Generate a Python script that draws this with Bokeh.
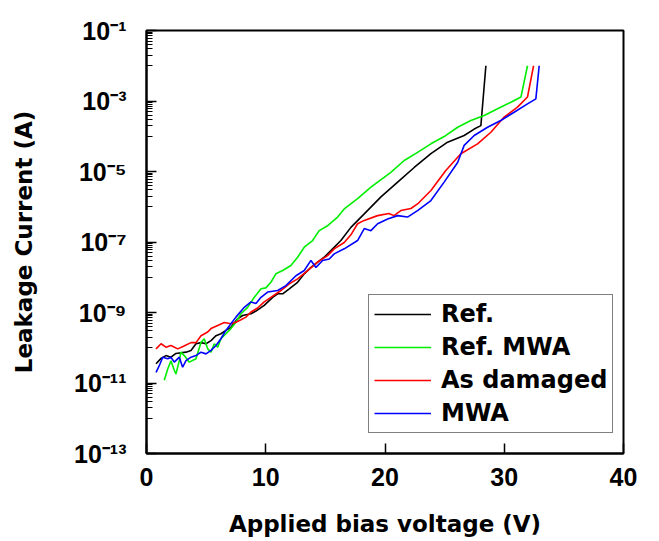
from bokeh.plotting import figure
from bokeh.models import FixedTicker, CustomJSTickFormatter, Legend, LegendItem
from bokeh.embed import file_html
from bokeh.resources import INLINE

# ---- data ----
v_ref = [0.80, 1.22, 1.63, 2.05, 2.47, 3.31, 3.73, 4.15, 4.57, 4.99, 5.41, 5.83, 6.24, 6.66,
         7.08, 7.64, 8.06, 8.76, 9.18, 9.87, 10.58, 11.00, 11.42, 11.97, 12.67, 13.23, 13.79,
         14.35, 14.90, 15.46, 16.30, 17.14, 18.26, 19.66, 21.06, 22.45, 23.85, 25.25, 26.64,
         27.48, 28.04, 28.46]
i_ref = [3.5e-11, 5.0e-11, 6.0e-11, 5.4e-11, 6.9e-11, 7.5e-11, 8.4e-11, 1.3e-10, 1.4e-10,
         1.3e-10, 1.6e-10, 2.2e-10, 2.5e-10, 3.1e-10, 3.8e-10, 6.6e-10, 8.2e-10, 9.2e-10,
         1.1e-9, 1.6e-9, 2.7e-9, 3.4e-9, 3.4e-9, 4.7e-9, 7.2e-9, 1.25e-8, 1.9e-8, 2.7e-8,
         3.7e-8, 5.7e-8, 1.1e-7, 2.6e-7, 6.3e-7, 1.9e-6, 5.0e-6, 1.3e-5, 3.2e-5, 6.8e-5,
         1.05e-4, 1.6e-4, 2.0e-4, 1.0e-2]

v_refmwa = [1.49, 1.78, 2.05, 2.33, 2.47, 2.75, 2.89, 3.17, 3.59, 4.15, 4.57, 4.84, 5.13, 5.41,
            5.68, 5.97, 6.24, 6.66, 7.08, 7.50, 7.92, 8.48, 9.04, 9.60, 10.01, 10.43, 10.85,
            11.42, 12.11, 12.67, 13.23, 13.93, 14.48, 15.19, 16.03, 16.58, 17.70, 18.82, 20.49,
            21.61, 22.73, 23.85, 24.96, 26.09, 27.20, 28.32, 29.44, 30.56, 31.40, 31.95]
i_refmwa = [1.2e-11, 2.5e-11, 4.3e-11, 2.3e-11, 1.8e-11, 4.3e-11, 7.5e-11, 6.0e-11, 3.9e-11,
            4.9e-11, 1.4e-10, 1.8e-10, 9.3e-11, 7.5e-11, 1.3e-10, 1.04e-10, 1.8e-10, 2.5e-10,
            3.5e-10, 5.3e-10, 9.2e-10, 1.4e-9, 2.7e-9, 4.7e-9, 5.0e-9, 7.2e-9, 1.25e-8, 1.55e-8,
            2.15e-8, 3.7e-8, 7.1e-8, 1.1e-7, 2.1e-7, 2.9e-7, 5.1e-7, 8.7e-7, 1.7e-6, 3.6e-6,
            9.5e-6, 2.05e-5, 3.5e-5, 6.1e-5, 9.8e-5, 1.8e-4, 2.8e-4, 3.9e-4, 6.0e-4, 9.2e-4,
            1.3e-3, 1.0e-2]

v_dmg = [0.80, 1.22, 1.63, 2.05, 2.62, 3.06, 3.73, 4.15, 4.57, 5.13, 5.41, 5.97, 6.52, 7.08,
         7.50, 7.92, 8.34, 8.76, 9.32, 9.87, 10.43, 11.27, 11.97, 12.67, 13.51, 14.35, 15.19,
         15.74, 16.58, 17.14, 17.70, 18.26, 19.38, 20.33, 20.75, 21.33, 22.17, 22.73, 23.85,
         25.10, 26.36, 27.76, 28.88, 29.99, 31.11, 31.95, 32.46]
i_dmg = [9.3e-11, 1.3e-10, 1.04e-10, 1.16e-10, 9.3e-11, 1.08e-10, 1.4e-10, 1.4e-10, 2.2e-10,
         2.8e-10, 3.5e-10, 4.3e-10, 5.2e-10, 4.8e-10, 5.3e-10, 6.2e-10, 7.4e-10, 1.03e-9,
         1.34e-9, 2.0e-9, 2.7e-9, 4.2e-9, 6.5e-9, 9.0e-9, 1.55e-8, 2.7e-8, 4.1e-8, 6.4e-8,
         9.7e-8, 1.6e-7, 3.3e-7, 4.1e-7, 5.6e-7, 6.4e-7, 5.6e-7, 7.8e-7, 8.9e-7, 1.2e-6,
         2.9e-6, 1.07e-5, 3.2e-5, 6.1e-5, 1.3e-4, 3.5e-4, 6.7e-4, 1.3e-3, 1.0e-2]

v_mwa = [0.80, 1.07, 1.36, 1.78, 2.05, 2.33, 2.75, 3.03, 3.31, 3.73, 4.15, 4.57, 4.99, 5.41,
         5.83, 6.24, 6.66, 7.08, 7.50, 8.20, 8.76, 9.18, 9.60, 10.16, 11.00, 11.69, 12.53,
         13.23, 13.79, 14.21, 14.77, 15.32, 15.74, 16.58, 17.70, 18.26, 18.82, 19.38, 20.22,
         21.06, 21.89, 22.73, 23.85, 24.96, 26.09, 26.64, 27.48, 28.60, 29.71, 30.83, 31.95,
         32.65, 32.93]
i_mwa = [2.0e-11, 3.1e-11, 5.4e-11, 4.9e-11, 5.4e-11, 3.9e-11, 5.4e-11, 2.8e-11, 4.3e-11,
         5.4e-11, 6.0e-11, 7.5e-11, 6.7e-11, 8.4e-11, 1.16e-10, 1.8e-10, 3.1e-10, 4.8e-10,
         7.4e-10, 1.4e-9, 2.0e-9, 1.8e-9, 2.7e-9, 3.8e-9, 4.2e-9, 5.8e-9, 1.1e-8, 1.55e-8,
         3.0e-8, 1.9e-8, 3.0e-8, 3.3e-8, 4.6e-8, 6.4e-8, 1.1e-7, 2.4e-7, 2.1e-7, 3.3e-7,
         4.5e-7, 5.6e-7, 5.1e-7, 7.8e-7, 1.5e-6, 5.0e-6, 1.8e-5, 5.5e-5, 1.05e-4, 1.8e-4,
         2.8e-4, 4.8e-4, 8.3e-4, 1.15e-3, 1.0e-2]

series_labels = ["Ref.", "Ref. MWA", "As damaged", "MWA"]
series_colors = ["#000000", "#00ee00", "#ff0000", "#0000ff"]

x_ticks = [0, 10, 20, 30, 40]
y_exponents = [-13, -11, -9, -7, -5, -3, -1]

TICK_FONT = "Liberation Sans"
TEXT_FONT = "DejaVu Sans"

p = figure(width=651, height=541, y_axis_type="log", x_range=(0, 40),
           y_range=(1e-13, 1e-1), output_backend="svg", toolbar_location=None)
p.min_border_left = 146
p.min_border_right = 28
p.min_border_top = 30
p.min_border_bottom = 88
p.xgrid.visible = False
p.ygrid.visible = False
p.outline_line_color = "black"
p.outline_line_width = 2
p.background_fill_color = "white"
p.border_fill_color = "white"

renderers = []
for xs, ys, col in [(v_ref, i_ref, series_colors[0]), (v_refmwa, i_refmwa, series_colors[1]),
                    (v_dmg, i_dmg, series_colors[2]), (v_mwa, i_mwa, series_colors[3])]:
    renderers.append(p.line(xs, ys, line_color=col, line_width=1.6))

# axes
y_major = [10.0 ** e for e in y_exponents]
y_minor = [m * 10.0 ** (e - 1) for e in y_exponents[1:] for m in range(1, 10)]
p.yaxis.ticker = FixedTicker(ticks=y_major, minor_ticks=y_minor)
p.yaxis.formatter = CustomJSTickFormatter(code="""
const sup = {"-": "\u207b", "0": "\u2070", "1": "\u00b9", "2": "\u00b2", "3": "\u00b3",
             "4": "\u2074", "5": "\u2075", "6": "\u2076", "7": "\u2077", "8": "\u2078", "9": "\u2079"};
const e = Math.round(Math.log10(tick));
return "10" + String(e).split("").map(c => sup[c]).join("");
""")
p.xaxis.ticker = FixedTicker(ticks=x_ticks, minor_ticks=[])

for ax in (p.xaxis, p.yaxis):
    ax.axis_line_width = 2
    ax.axis_line_color = "black"
    ax.major_tick_in = 10
    ax.major_tick_out = 0
    ax.major_tick_line_width = 1.5
    ax.minor_tick_in = 6
    ax.minor_tick_out = 0
    ax.minor_tick_line_width = 1.2
    ax.major_label_text_font = TICK_FONT
    ax.major_label_text_font_style = "bold"
    ax.major_label_text_font_size = "25px"
    ax.major_label_text_color = "black"
    ax.axis_label_text_font = TEXT_FONT
    ax.axis_label_text_font_style = "bold"
    ax.axis_label_text_font_size = "23px"
    ax.axis_label_text_color = "black"

p.xaxis.axis_label = "Applied bias voltage (V)"
p.yaxis.axis_label = "Leakage Current (A)"
p.xaxis.major_label_standoff = 14
p.yaxis.major_label_standoff = 20
p.xaxis.axis_label_standoff = 22
p.yaxis.axis_label_standoff = 34

legend = Legend(items=[LegendItem(label=lab, renderers=[r]) for lab, r in zip(series_labels, renderers)],
                location=(222, 20))
legend.label_text_font = TEXT_FONT
legend.label_text_font_style = "bold"
legend.label_text_font_size = "24px"
legend.label_text_color = "black"
legend.border_line_color = "black"
legend.border_line_width = 1.5
legend.background_fill_alpha = 1.0
legend.padding = 5
legend.spacing = 5
legend.margin = 0
legend.glyph_width = 57
legend.glyph_height = 28
legend.label_height = 28
legend.label_standoff = 10
p.add_layout(legend, "center")

open("out.html", "w").write(file_html(p, INLINE))
